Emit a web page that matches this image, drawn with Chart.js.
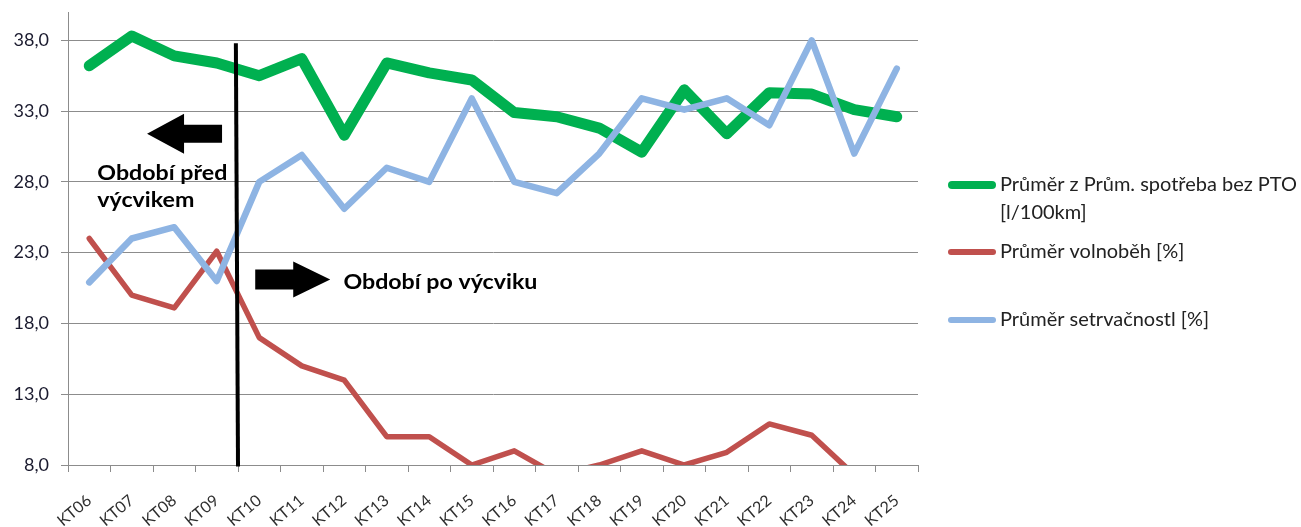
<!DOCTYPE html>
<html><head><meta charset="utf-8">
<script src="https://cdn.jsdelivr.net/npm/chart.js@4.4.1/dist/chart.umd.min.js"></script>
<style>html,body{margin:0;padding:0;background:#fff;}#wrap{position:relative;width:1301px;height:527px;}canvas{display:block;}</style>
</head><body><div id="wrap"><canvas id="c" width="1301" height="527"></canvas></div>
<script>
const categories = ['KT06','KT07','KT08','KT09','KT10','KT11','KT12','KT13','KT14','KT15','KT16','KT17','KT18','KT19','KT20','KT21','KT22','KT23','KT24','KT25'];
const fuelConsumption = [36.2, 38.3, 36.9, 36.4, 35.5, 36.7, 31.3, 36.4, 35.7, 35.2, 32.9, 32.6, 31.8, 30.1, 34.5, 31.4, 34.3, 34.2, 33.1, 32.6];
const idlePercent = [24.0, 20.0, 19.1, 23.1, 17.0, 15.0, 14.0, 10.0, 10.0, 8.0, 9.0, 7.3, 8.0, 9.0, 8.0, 8.9, 10.9, 10.1, 7.3, null];
const coastingPercent = [20.9, 24.0, 24.8, 21.0, 28.0, 29.9, 26.1, 29.0, 28.0, 33.9, 28.0, 27.2, 30.0, 33.9, 33.1, 33.9, 32.0, 38.0, 30.0, 36.0];
const yTicks = [8, 13, 18, 23, 28, 33, 38];
const seriesNames = [['Průměr z Prům. spotřeba bez PTO', '[l/100km]'], ['Průměr volnoběh [%]'], ['Průměr setrvačnostl [%]']];
const seriesColors = ['#00B050', '#C0504D', '#8EB4E3'];
const annotationTexts = { before: ['Období před', 'výcvikem'], after: 'Období po výcviku' };

const GRID = '#8c8c8c';
const FONT = 'Lato, "Open Sans", sans-serif';

const annotPlugin = {
  id: 'annot',
  afterDatasetsDraw(chart) {
    const { ctx, scales: { x, y } } = chart;
    ctx.save();
    ctx.strokeStyle = '#000';
    ctx.lineWidth = 4;
    ctx.beginPath();
    ctx.moveTo(x.getPixelForValue(3.45), y.getPixelForValue(37.8));
    ctx.lineTo(x.getPixelForValue(3.5), y.getPixelForValue(7.9));
    ctx.stroke();

    function arrow(tx, ty, dir, len, headLen, headH, shaftH) {
      ctx.fillStyle = '#000';
      ctx.beginPath();
      ctx.moveTo(tx, ty);
      ctx.lineTo(tx - dir * headLen, ty - headH / 2);
      ctx.lineTo(tx - dir * headLen, ty - shaftH / 2);
      ctx.lineTo(tx - dir * len, ty - shaftH / 2);
      ctx.lineTo(tx - dir * len, ty + shaftH / 2);
      ctx.lineTo(tx - dir * headLen, ty + shaftH / 2);
      ctx.lineTo(tx - dir * headLen, ty + headH / 2);
      ctx.closePath();
      ctx.fill();
    }
    arrow(x.getPixelForValue(1.36), y.getPixelForValue(31.4), -1, 75, 37, 40, 18);
    arrow(x.getPixelForValue(5.67), y.getPixelForValue(21.1), 1, 75, 37, 36, 20);

    ctx.font = 'bold 20px ' + FONT;
    ctx.fillStyle = '#000';
    ctx.textBaseline = 'middle';
    ctx.textAlign = 'left';
    const sx = 194 / ctx.measureText(annotationTexts.after).width;
    function txt(s, px, py) {
      ctx.save();
      ctx.translate(px, py);
      ctx.scale(sx, 1);
      ctx.fillText(s, 0, 0);
      ctx.restore();
    }
    txt(annotationTexts.before[0], x.getPixelForValue(0.19), y.getPixelForValue(28.6));
    txt(annotationTexts.before[1], x.getPixelForValue(0.19), y.getPixelForValue(26.7));
    txt(annotationTexts.after, x.getPixelForValue(5.98), y.getPixelForValue(20.9));
    ctx.restore();
  },
  afterDraw(chart) {
    const { ctx, chartArea } = chart;
    ctx.save();
    const x0 = chartArea.right + 30, x1 = x0 + 48, tx = x1 + 4;
    const rows = [185, 252, 320];
    const widths = [8, 6, 6];
    ctx.font = '19px ' + FONT;
    ctx.fillStyle = '#222';
    ctx.textBaseline = 'middle';
    ctx.textAlign = 'left';
    ctx.lineCap = 'round';
    const sx = 297 / ctx.measureText(seriesNames[0][0]).width;
    seriesNames.forEach((lines, i) => {
      const yy = rows[i];
      ctx.strokeStyle = seriesColors[i];
      ctx.lineWidth = widths[i];
      ctx.beginPath();
      ctx.moveTo(x0 + widths[i] / 2, yy);
      ctx.lineTo(x1 - widths[i] / 2, yy);
      ctx.stroke();
      lines.forEach((l, j) => {
        ctx.save();
        ctx.translate(tx, yy + j * 28);
        ctx.scale(sx, 1);
        ctx.fillText(l, 0, 0);
        ctx.restore();
      });
    });
    ctx.restore();
  }
};

new Chart(document.getElementById('c'), {
  type: 'line',
  data: {
    labels: categories,
    datasets: [
      { label: seriesNames[0].join(' '), data: fuelConsumption, borderColor: seriesColors[0], borderWidth: 11, order: 3 },
      { label: seriesNames[1][0], data: idlePercent, borderColor: seriesColors[1], borderWidth: 5.5, order: 2 },
      { label: seriesNames[2][0], data: coastingPercent, borderColor: seriesColors[2], borderWidth: 6.5, order: 1 }
    ].map(d => Object.assign(d, { pointRadius: 0, pointHoverRadius: 0, tension: 0, fill: false, clip: 0, borderJoinStyle: 'round', borderCapStyle: 'round' }))
  },
  options: {
    responsive: false,
    animation: false,
    events: [],
    layout: { padding: { top: 12, right: 383, left: 0, bottom: 0 } },
    plugins: { legend: { display: false }, tooltip: { enabled: false } },
    scales: {
      x: {
        offset: true,
        afterFit(s) { s.height = 62; s.paddingLeft = 0; s.paddingRight = 0; },
        grid: { display: true, drawOnChartArea: false, drawTicks: true, tickLength: 7, color: GRID, offset: true },
        border: { display: true, color: GRID, width: 1 },
        ticks: { minRotation: 40, maxRotation: 40, autoSkip: false, color: '#2e2e2e', font: { family: FONT, size: 16 }, padding: 19 }
      },
      y: {
        min: 8, max: 40,
        afterFit(s) { s.width = 68; s.paddingTop = 0; s.paddingBottom = 0; },
        afterBuildTicks(s) { s.ticks = yTicks.map(v => ({ value: v })); },
        grid: { color: GRID, lineWidth: 1, tickLength: 7, drawTicks: true },
        border: { display: true, color: GRID, width: 1 },
        ticks: { color: '#1a1a2e', font: { family: FONT, size: 18 }, padding: 12, callback: v => v.toFixed(1).replace('.', ',') }
      }
    }
  },
  plugins: [annotPlugin]
});
</script></body></html>
